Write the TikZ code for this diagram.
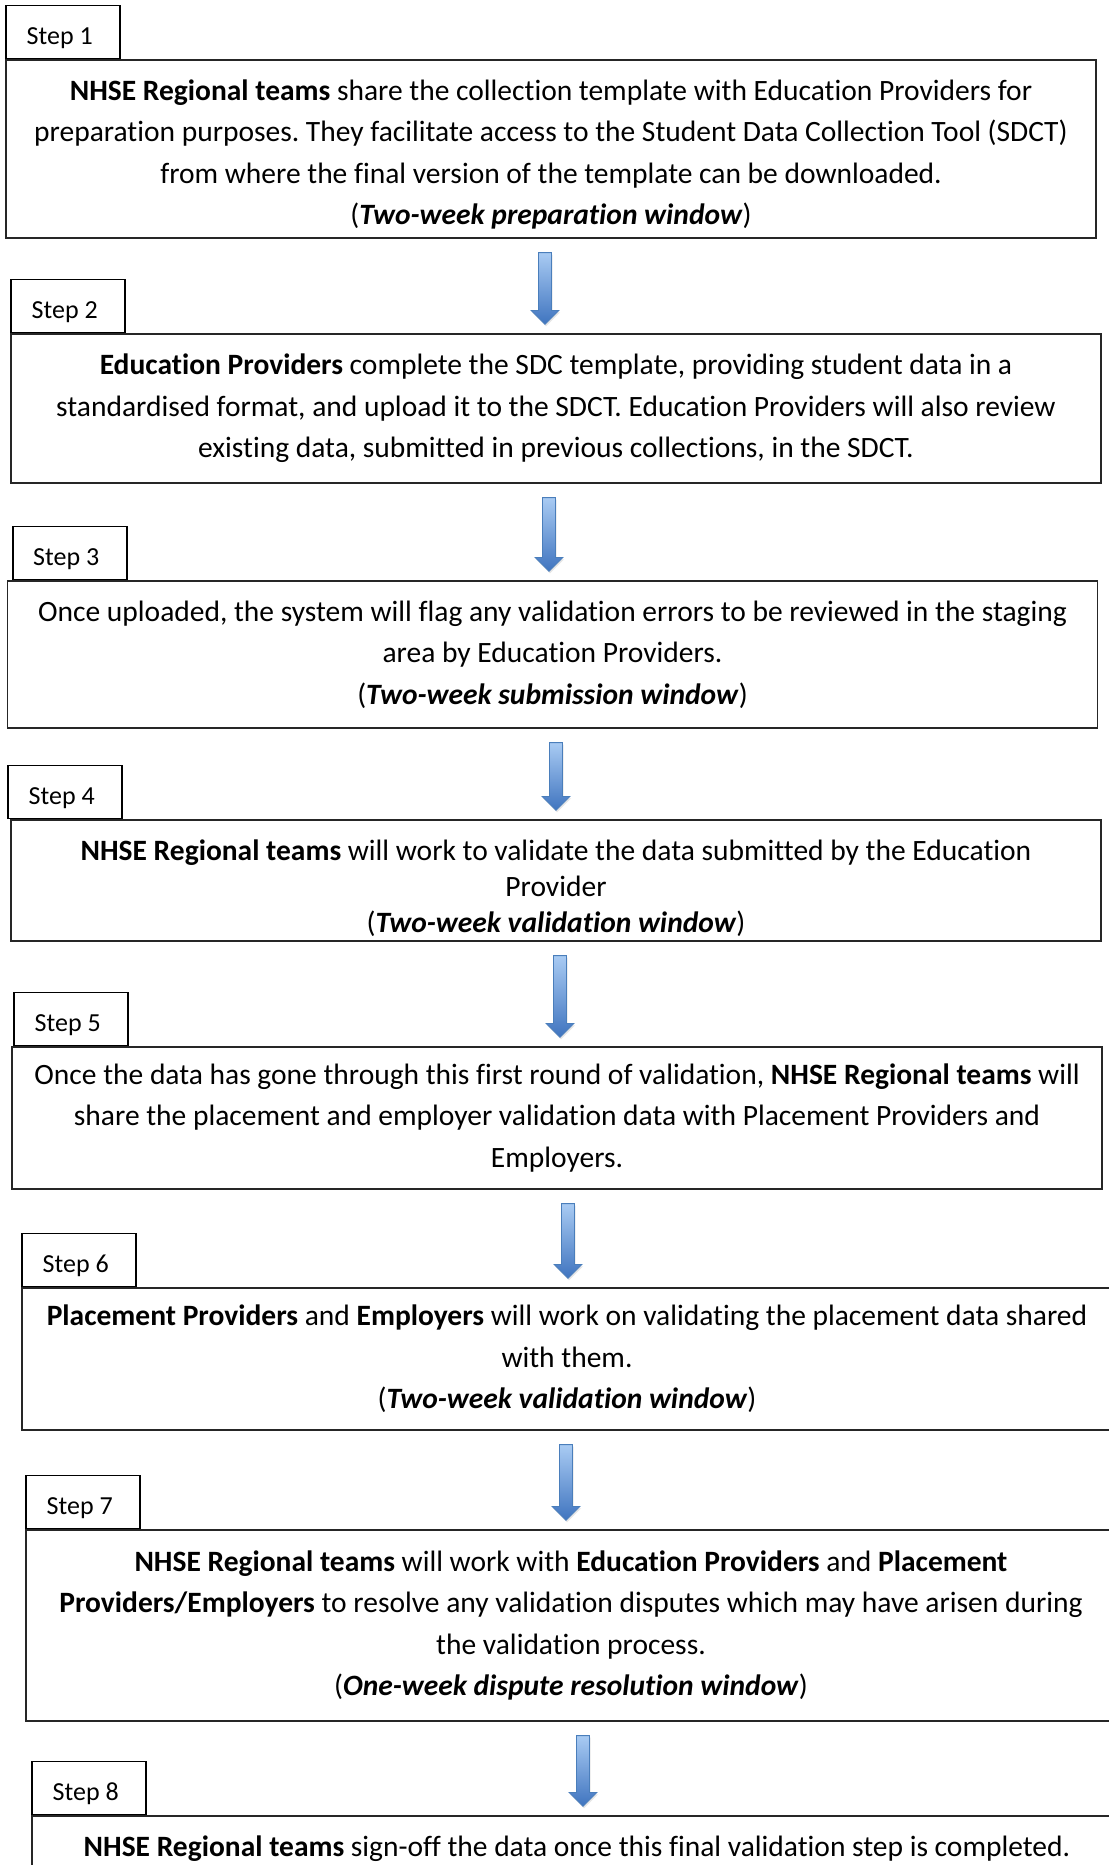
\documentclass[tikz,border=0pt]{standalone}
\usepackage{fontspec}
\setmainfont{Carlito}[Ligatures=NoCommon]
\usetikzlibrary{positioning,calc,shadows}

\definecolor{arrowtop}{HTML}{A9CBF3}
\definecolor{arrowbot}{HTML}{3F74BF}
\definecolor{arrowline}{HTML}{4A7EBB}

% blue block arrow between two boxes, at a given x
\newcommand{\flowarrow}[3]{%
  \path[flowarrow] let \p1=(#3,0 |- #1.south), \p2=(#3,0 |- #2.north) in
    (\x1-3.25pt,\y1-7pt) -- (\x1+3.25pt,\y1-7pt) -- (\x1+3.25pt,\y2+11.5pt)
    -- (\x1+7pt,\y2+11.5pt) -- (\x1,\y2+4.5pt) -- (\x1-7pt,\y2+11.5pt)
    -- (\x1-3.25pt,\y2+11.5pt) -- cycle;}

\tikzset{
  stepbox/.style={draw=black!85, line width=0.6pt, fill=white, minimum width=545pt,
    align=center, inner sep=0pt, font=\fontsize{14.75}{20.75}\selectfont},
  steptab/.style={draw=black, line width=0.9pt, fill=white, minimum width=57pt,
    minimum height=26.5pt, inner sep=0pt, text height=12.5pt, text depth=0pt,
    font=\fontsize{13}{16}\selectfont},
  flowarrow/.style={top color=arrowtop, bottom color=arrowbot, draw=arrowline,
    line width=0.4pt, drop shadow={opacity=0.2, shadow xshift=0.5pt, shadow yshift=-1pt}}
}
\newcommand{\tabtext}[1]{\hspace*{-3.6pt}#1}

\begin{document}
\frenchspacing
\begin{tikzpicture}[x=0.5pt,y=-0.5pt]
  \useasboundingbox (0,0) rectangle (1109,1865);
  % step boxes
  \node[stepbox, minimum height=89pt] (s1) at (551,149)
    {\rule{0pt}{16pt}\textbf{NHSE Regional teams} share the collection template with Education Providers for\\
     preparation purposes. They facilitate access to the Student Data Collection Tool (SDCT)\\
     from where the final version of the template can be downloaded.\\
     (\textbf{\textit{Two-week preparation window}})};
  \node[steptab, above right=0pt and 0pt of s1.north west] (t1) {\tabtext{Step 1}};

  \node[stepbox, minimum height=74.5pt] (s2) at (556,408.5)
    {\textbf{Education Providers} complete the SDC template, providing student data in a\\
     standardised format, and upload it to the SDCT. Education Providers will also review\\
     existing data, submitted in previous collections, in the SDCT.};
  \node[steptab, above right=0pt and 0pt of s2.north west] (t2) {\tabtext{Step 2}};

  \node[stepbox, minimum height=73.5pt] (s3) at (552.5,654.5)
    {Once uploaded, the system will flag any validation errors to be reviewed in the staging\\
     area by Education Providers.\\
     (\textbf{\textit{Two-week submission window}})};
  \node[steptab, above right=0pt and 2.5pt of s3.north west] (t3) {\tabtext{Step 3}};

  \node[stepbox, minimum height=60.5pt, font=\fontsize{14.75}{18}\selectfont] (s4) at (556,880.5)
    {\rule{0pt}{18pt}\textbf{NHSE Regional teams} will work to validate the data submitted by the Education\\
     Provider\\
     (\textbf{\textit{Two-week validation window}})};
  \node[steptab, above right=0pt and -1.5pt of s4.north west] (t4) {\tabtext{Step 4}};

  \node[stepbox, minimum height=71pt] (s5) at (557,1118)
    {Once the data has gone through this first round of validation, \textbf{NHSE Regional teams} will\\
     share the placement and employer validation data with Placement Providers and\\
     Employers.};
  \node[steptab, above right=0pt and 1pt of s5.north west] (t5) {\tabtext{Step 5}};

  \node[stepbox, minimum height=71pt] (s6) at (567,1359)
    {\textbf{Placement Providers} and \textbf{Employers} will work on validating the placement data shared\\
     with them.\\
     (\textbf{\textit{Two-week validation window}})};
  \node[steptab, above right=0pt and 0pt of s6.north west] (t6) {\tabtext{Step 6}};

  \node[stepbox, minimum height=95.5pt] (s7) at (571,1625.5)
    {\textbf{NHSE Regional teams} will work with \textbf{Education Providers} and \textbf{Placement}\\
     \textbf{Providers/Employers} to resolve any validation disputes which may have arisen during\\
     the validation process.\\
     (\textbf{\textit{One-week dispute resolution window}})};
  \node[steptab, above right=0pt and 0pt of s7.north west] (t7) {\tabtext{Step 7}};

  \node[stepbox, minimum height=33pt] (s8) at (577,1849)
    {\textbf{NHSE Regional teams} sign-off the data once this final validation step is completed.};
  \node[steptab, above right=0pt and 0pt of s8.north west] (t8) {\tabtext{Step 8}};

  % arrows
  \flowarrow{s1}{s2}{545}
  \flowarrow{s2}{s3}{549}
  \flowarrow{s3}{s4}{556}
  \flowarrow{s4}{s5}{560}
  \flowarrow{s5}{s6}{568}
  \flowarrow{s6}{s7}{566}
  \flowarrow{s7}{s8}{583}
\end{tikzpicture}
\end{document}
